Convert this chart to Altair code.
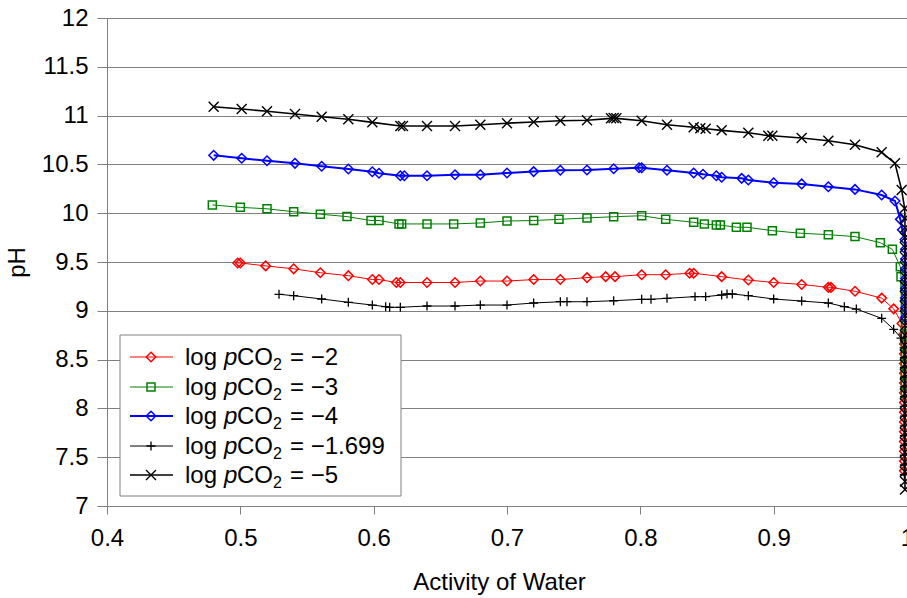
import altair as alt
import pandas as pd

FONT = "Liberation Sans"

# ---------------- data ----------------
labels = ["\u22122", "\u22123", "\u22124", "\u22121.699", "\u22125"]

red_a = [0.498, 0.500, 0.519, 0.540, 0.560, 0.581, 0.599, 0.604, 0.617, 0.620,
         0.640, 0.661, 0.680, 0.700, 0.720, 0.740, 0.760, 0.774, 0.781, 0.801,
         0.819, 0.837, 0.840, 0.861, 0.881, 0.900, 0.921, 0.941, 0.943, 0.961,
         0.981, 0.990, 0.9962,
         0.9975, 0.998, 0.998, 0.998, 0.998, 0.998, 0.998, 0.998, 0.998, 0.998,
         0.998, 0.998, 0.998, 0.998, 0.998]
red_ph = [9.49, 9.49, 9.46, 9.43, 9.39, 9.36, 9.32, 9.32, 9.29, 9.29,
          9.29, 9.29, 9.305, 9.305, 9.32, 9.32, 9.34, 9.35, 9.35, 9.37,
          9.37, 9.385, 9.385, 9.35, 9.315, 9.29, 9.27, 9.24, 9.24, 9.20,
          9.13, 9.02, 8.87,
          8.76, 8.66, 8.56, 8.46, 8.36, 8.26, 8.16, 8.06, 7.96, 7.86,
          7.76, 7.66, 7.56, 7.46, 7.36]

green_a = [0.479, 0.500, 0.520, 0.540, 0.560, 0.580, 0.598, 0.604, 0.619, 0.621,
           0.640, 0.660, 0.680, 0.700, 0.720, 0.739, 0.760, 0.780, 0.801, 0.819,
           0.840, 0.848, 0.857, 0.860, 0.872, 0.880, 0.899, 0.920, 0.941, 0.961,
           0.980, 0.989, 0.995, 0.9955,
           0.9985, 0.9988, 0.9988, 0.9988, 0.9988, 0.9988, 0.9988, 0.9988, 0.9988,
           0.9988, 0.9988, 0.9988]
green_ph = [10.085, 10.06, 10.045, 10.015, 9.99, 9.965, 9.925, 9.925, 9.89, 9.89,
            9.89, 9.89, 9.90, 9.92, 9.925, 9.937, 9.951, 9.964, 9.974, 9.937,
            9.907, 9.889, 9.879, 9.879, 9.856, 9.856, 9.821, 9.795, 9.78, 9.76,
            9.698, 9.63, 9.452, 9.349,
            9.25, 9.15, 9.05, 8.95, 8.85, 8.75, 8.65, 8.55, 8.45,
            8.35, 8.25, 8.15]

blue_a = [0.480, 0.501, 0.520, 0.541, 0.561, 0.581, 0.599, 0.604, 0.620, 0.623,
          0.640, 0.661, 0.680, 0.700, 0.720, 0.740, 0.760, 0.780, 0.799, 0.801,
          0.820, 0.840, 0.847, 0.857, 0.861, 0.876, 0.881, 0.900, 0.921, 0.941,
          0.961, 0.981, 0.991, 0.995, 0.9965,
          0.9985, 0.9988, 0.9988, 0.9988, 0.9988, 0.9988, 0.9988, 0.9988, 0.9988]
blue_ph = [10.593, 10.563, 10.538, 10.511, 10.481, 10.453, 10.425, 10.409, 10.384, 10.384,
           10.384, 10.394, 10.394, 10.412, 10.426, 10.440, 10.443, 10.456, 10.466, 10.466,
           10.440, 10.412, 10.399, 10.384, 10.368, 10.357, 10.340, 10.312, 10.300, 10.271,
           10.244, 10.186, 10.125, 9.937, 9.83,
           9.73, 9.63, 9.53, 9.43, 9.33, 9.23, 9.13, 9.03, 8.93]

plus_a = [0.529, 0.540, 0.561, 0.581, 0.599, 0.609, 0.612, 0.620, 0.640, 0.661,
          0.680, 0.700, 0.720, 0.740, 0.745, 0.760, 0.780, 0.801, 0.808, 0.820,
          0.841, 0.849, 0.861, 0.865, 0.869, 0.881, 0.900, 0.921, 0.941, 0.953,
          0.962, 0.981, 0.990, 0.9955,
          0.9978, 0.998, 0.998, 0.998, 0.998, 0.998, 0.998, 0.998, 0.998, 0.998,
          0.998, 0.998, 0.998, 0.998]
plus_ph = [9.169, 9.155, 9.121, 9.087, 9.059, 9.042, 9.036, 9.036, 9.049, 9.049,
           9.059, 9.059, 9.080, 9.093, 9.093, 9.093, 9.103, 9.118, 9.118, 9.128,
           9.145, 9.145, 9.162, 9.172, 9.172, 9.155, 9.121, 9.100, 9.080, 9.042,
           9.018, 8.923, 8.81, 8.72,
           8.62, 8.52, 8.42, 8.32, 8.22, 8.12, 8.02, 7.92, 7.82, 7.72,
           7.62, 7.52, 7.42, 7.32]

cross_a = [0.480, 0.501, 0.520, 0.541, 0.561, 0.581, 0.599, 0.620, 0.622, 0.640,
           0.661, 0.680, 0.700, 0.720, 0.740, 0.760, 0.778, 0.780, 0.782, 0.801,
           0.820, 0.840, 0.845, 0.849, 0.861, 0.881, 0.896, 0.899, 0.921, 0.941,
           0.961, 0.981, 0.991, 0.996,
           0.9982, 0.9985, 0.9985, 0.9985, 0.9985, 0.9985, 0.9985, 0.9985, 0.9985, 0.9985,
           0.9985, 0.9985, 0.9985, 0.9985, 0.9985, 0.9985, 0.9985, 0.9985, 0.9985, 0.9985,
           0.9985, 0.9985, 0.9985, 0.9985, 0.9985, 0.9985, 0.9985, 0.9985, 0.9985, 0.9985]
cross_ph = [11.09, 11.068, 11.044, 11.016, 10.989, 10.962, 10.931, 10.893, 10.893, 10.893,
            10.893, 10.907, 10.922, 10.935, 10.948, 10.952, 10.972, 10.975, 10.972, 10.948,
            10.907, 10.880, 10.870, 10.866, 10.849, 10.825, 10.794, 10.794, 10.770, 10.743,
            10.702, 10.624, 10.511, 10.238,
            10.05, 9.95, 9.85, 9.75, 9.65, 9.55, 9.45, 9.35, 9.25, 9.15,
            9.05, 8.95, 8.85, 8.75, 8.65, 8.55, 8.45, 8.35, 8.25, 8.15,
            8.05, 7.95, 7.85, 7.75, 7.65, 7.55, 7.45, 7.35, 7.25, 7.17]

x_ticks = [0.4, 0.5, 0.6, 0.7, 0.8, 0.9, 1.0]
y_ticks = [7, 7.5, 8, 8.5, 9, 9.5, 10, 10.5, 11, 11.5, 12]

# ---------------- styles ----------------
PLUS = "M-1,0L1,0M0,-1L0,1"
CROSS = "M-1,-1L1,1M-1,1L1,-1"
styles = [
    dict(color="#FF0000", shape="diamond", size=90, lw=1.0, mw=1.5),
    dict(color="#008000", shape="square", size=64, lw=1.0, mw=1.5),
    dict(color="#0000FF", shape="diamond", size=90, lw=2.0, mw=1.5),
    dict(color="#000000", shape=PLUS, size=80, lw=1.0, mw=1.3),
    dict(color="#000000", shape=CROSS, size=100, lw=1.6, mw=1.4),
]
series_data = [(red_a, red_ph), (green_a, green_ph), (blue_a, blue_ph),
               (plus_a, plus_ph), (cross_a, cross_ph)]

X = alt.X("a:Q", title="Activity of Water",
          scale=alt.Scale(domain=[0.4, 1.0], nice=False, zero=False),
          axis=alt.Axis(values=x_ticks, format="~g", grid=False, tickSize=8,
                        labelPadding=12, titlePadding=20, labelFlush=False,
                        titleX=392))
Y = alt.Y("ph:Q", title="pH",
          scale=alt.Scale(domain=[7, 12], nice=False, zero=False),
          axis=alt.Axis(values=y_ticks, format="~g", grid=True, tickSize=10,
                        labelPadding=9, titlePadding=12, labelFlush=False))

layers = []
for (a, ph), st in zip(series_data, styles):
    df = pd.DataFrame({"a": a, "ph": ph, "i": list(range(len(a)))})
    layers.append(alt.Chart(df).mark_line(color=st["color"], strokeWidth=st["lw"])
                  .encode(x=X, y=Y, order="i:Q"))
    layers.append(alt.Chart(df).mark_point(shape=st["shape"], size=st["size"], filled=False,
                                           color=st["color"], strokeWidth=st["mw"], opacity=1)
                  .encode(x=X, y=Y))

# ---------------- legend (drawn by hand for italic p and subscript 2) ----------------
one = pd.DataFrame({"k": [0]})
layers.append(alt.Chart(one).mark_rect(fill="white", stroke="#808080", strokeWidth=1)
              .encode(x=alt.value(13), x2=alt.value(294), y=alt.value(317), y2=alt.value(478)))
row_y = [339, 369, 398, 428, 457]
for lab, st, ry in zip(labels, styles, row_y):
    layers.append(alt.Chart(one).mark_rule(color=st["color"], strokeWidth=st["lw"])
                  .encode(x=alt.value(23), x2=alt.value(66), y=alt.value(ry)))
    layers.append(alt.Chart(one).mark_point(shape=st["shape"], size=st["size"], filled=False,
                                            color=st["color"], strokeWidth=st["mw"], opacity=1)
                  .encode(x=alt.value(44), y=alt.value(ry)))
    pieces = [("log", 78, 0, 24, "normal"), ("p", 117, 0, 24, "italic"),
              ("CO", 130, 0, 24, "normal"), ("2", 166, 5, 16, "normal"),
              ("= " + lab, 183, 0, 24, "normal")]
    for txt, px, dy, fs, fst in pieces:
        layers.append(alt.Chart(one).mark_text(text=txt, align="left", baseline="alphabetic",
                                               font=FONT, fontSize=fs, fontStyle=fst, color="black")
                      .encode(x=alt.value(px), y=alt.value(ry + 8 + dy)))

chart = (alt.layer(*layers)
         .properties(width=800, height=488,
                     autosize=alt.AutoSizeParams(type="none"),
                     padding={"left": 107, "top": 18, "right": 0, "bottom": 92},
                     background="white")
         .configure_view(stroke=None)
         .configure_axis(labelFont=FONT, titleFont=FONT, labelFontSize=24, titleFontSize=24,
                         titleFontWeight="normal", labelColor="black", titleColor="black",
                         domainColor="#808080", tickColor="#808080", gridColor="#808080",
                         gridWidth=1, domainWidth=1, tickWidth=1, gridOpacity=1))

chart.save("out.html", embed_options={"renderer": "svg", "actions": False})
